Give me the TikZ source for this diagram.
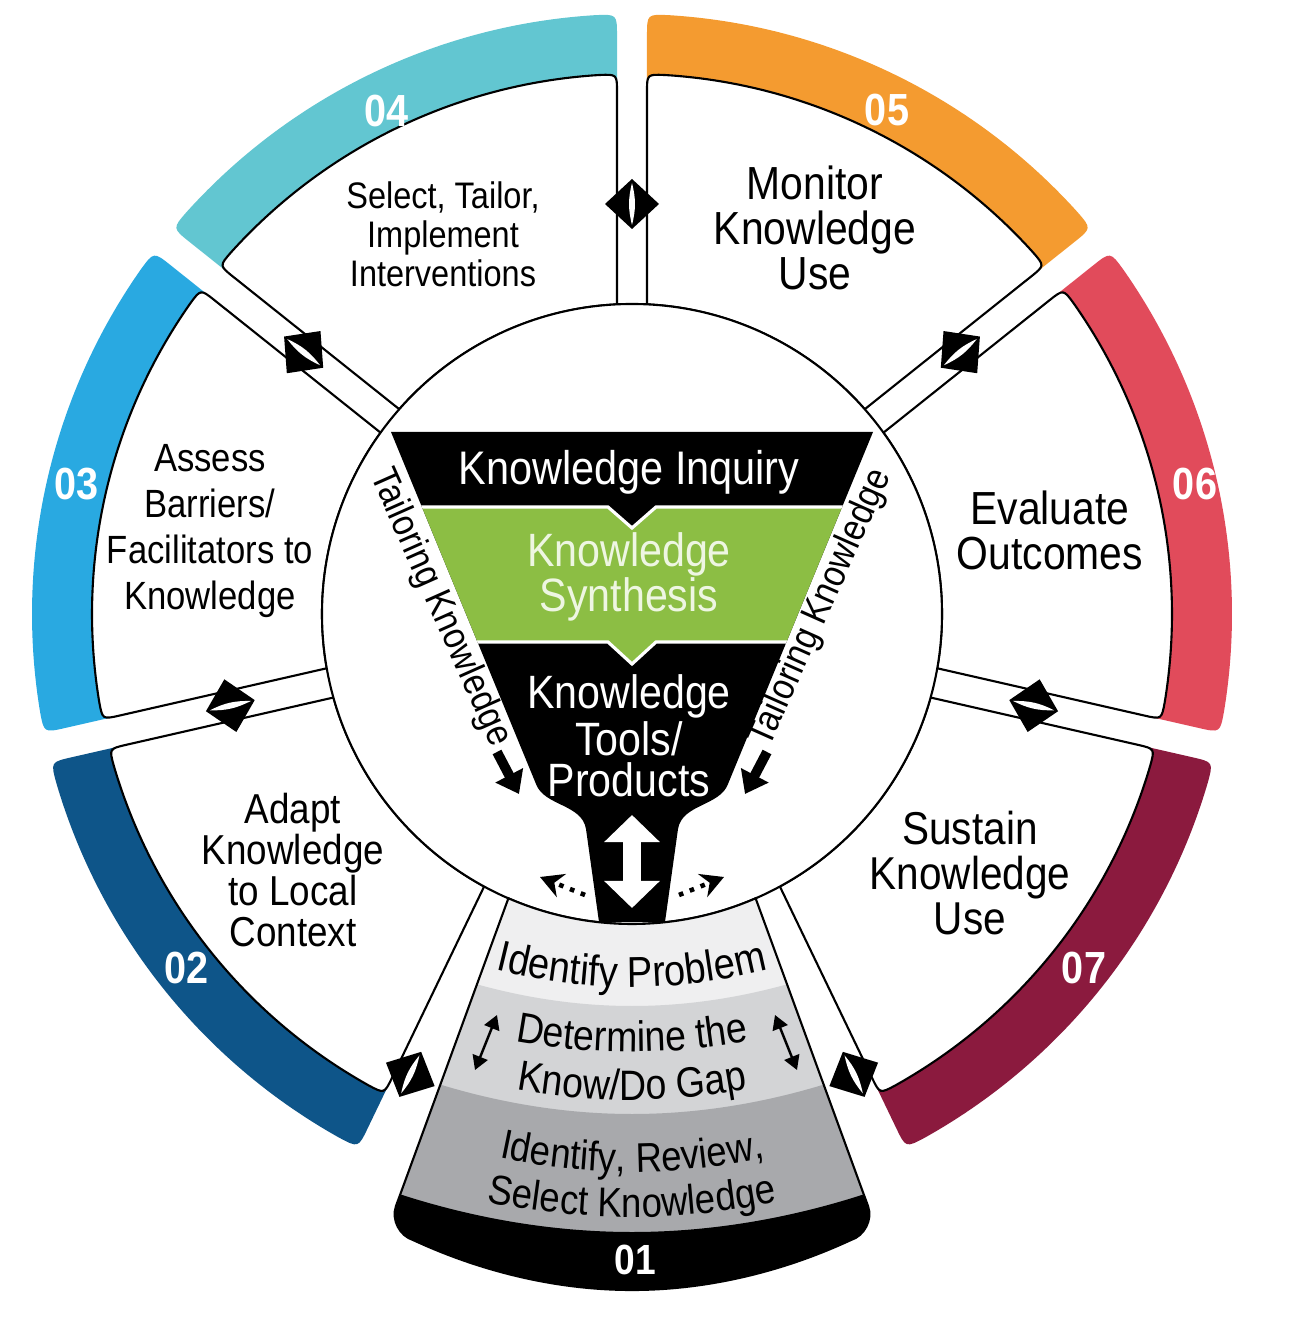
\documentclass[tikz,border=0pt]{standalone}
\usepackage{fontspec}
\setmainfont{Liberation Sans}[FakeStretch=0.88]
\usetikzlibrary{arrows.meta,decorations.text}

\definecolor{stagetwo}{HTML}{0E5589}
\definecolor{stagethree}{HTML}{29A9E1}
\definecolor{stagefour}{HTML}{62C6D1}
\definecolor{stagefive}{HTML}{F49B30}
\definecolor{stagesix}{HTML}{E14B5B}
\definecolor{stageseven}{HTML}{8B1A3E}
\definecolor{kgreen}{HTML}{8CBE44}
\definecolor{kgreentext}{HTML}{EEF6E2}
\definecolor{bandone}{HTML}{EFEFF0}
\definecolor{bandtwo}{HTML}{D3D4D6}
\definecolor{bandthree}{HTML}{A8A9AC}

\tikzset{
  stagebox/.style={fill=white, draw=black, line width=0.6pt},
  steptext/.style={align=center, text=black, inner sep=0pt},
  stepnum/.style={text=white, inner sep=0pt, font=\bfseries\fontsize{12.8}{14}\selectfont},
  funneltext/.style={align=center, text=white, inner sep=0pt},
  arctext/.style={decorate, decoration={text along path, text align=center, text={#1}}}
}

\begin{document}
\begin{tikzpicture}[x=0.01cm, y=0.01cm]
\useasboundingbox (-632,-705) rectangle (667,614);

% coloured rims and white stages
\foreach \a/\col in {90/stagefive, 38.571/stagesix, -12.857/stageseven, -115.714/stagetwo, -167.143/stagethree, 141.429/stagefour}{
  \pgfmathsetmacro\b{\a-51.429}
  \fill[\col] ({\a-1.719}:500) -- ({\a-1.487}:578) .. controls ({\a-1.432}:600) .. ({\a-3.533}:600)
    arc[start angle={\a-3.533}, end angle={\b+3.533}, radius=600]
    .. controls ({\b+1.432}:600) .. ({\b+1.487}:578) -- ({\b+1.719}:500)
    arc[start angle={\b+1.719}, end angle={\a-1.719}, radius=500] -- cycle;
  \filldraw[stagebox] ({\a-2.774}:310) -- ({\a-1.647}:522) .. controls ({\a-1.592}:540) .. ({\a-3.502}:540)
    arc[start angle={\a-3.502}, end angle={\b+3.502}, radius=540]
    .. controls ({\b+1.592}:540) .. ({\b+1.647}:522) -- ({\b+2.774}:310)
    arc[start angle={\b+2.774}, end angle={\a-2.774}, radius=310] -- cycle;
}

\filldraw[fill=white, draw=black, line width=0.6pt] (0,0) circle[radius=310];

% stage 01
\draw[line width=0.6pt, path picture={
    \fill[bandone] (-320,-250) rectangle (320,-720);
    \fill[bandtwo] (-320,-300) parabola bend (0,-392) (320,-300) -- (320,-720) -- (-320,-720) -- cycle;
    \fill[bandthree] (-320,-418) parabola bend (0,-500) (320,-418) -- (320,-720) -- (-320,-720) -- cycle;
    \fill[black] (-320,-546) parabola bend (0,-618) (320,-546) -- (320,-720) -- (-320,-720) -- cycle;
  }] (-113.5:310) -- (-236,-592) .. controls (-241,-606) and (-232,-622) .. (-219,-626)
  parabola bend (0,-676) (219,-626) .. controls (232,-622) and (241,-606) .. (236,-592)
  -- (-66.5:310) arc[start angle=-66.5, end angle=-113.5, radius=310] -- cycle;

\path[arctext={|\fontsize{12.3}{14}\selectfont|Identify Problem}] (-250,-315) parabola bend (0,-373) (250,-315);
\path[arctext={|\fontsize{12.1}{14}\selectfont|Determine the}] (-250,-388) parabola bend (0,-438) (250,-388);
\path[arctext={|\fontsize{12.1}{14}\selectfont|Know/Do Gap}] (-250,-436) parabola bend (0,-486) (250,-436);
\path[arctext={|\fontsize{11.8}{14}\selectfont|Identify, Review,}] (-250,-508) parabola bend (0,-558) (250,-508);
\path[arctext={|\fontsize{11.8}{14}\selectfont|Select Knowledge}] (-250,-559) parabola bend (0,-603) (250,-559);

\coordinate (gapla) at (-135,-401);
\coordinate (gaplb) at (-157,-456);
\coordinate (gapra) at (143,-401);
\coordinate (gaprb) at (165,-456);
\draw[line width=0.7pt, {Triangle[width=4.5pt,length=4pt]}-{Triangle[width=4.5pt,length=4pt]}] (gapla) -- (gaplb);
\draw[line width=0.7pt, {Triangle[width=4.5pt,length=4pt]}-{Triangle[width=4.5pt,length=4pt]}] (gapra) -- (gaprb);

\node[stepnum, font=\bfseries\fontsize{12}{14}\selectfont] (n01) at (3,-646) {01};

% funnel
\fill[black, path picture={
    \filldraw[fill=kgreen, draw=white, line width=0.9pt] (-300,107) -- (-24,107) -- (0,86) -- (24,107) -- (300,107)
      -- (300,-28) -- (24,-28) -- (0,-50) -- (-24,-28) -- (-300,-28) -- cycle;
  }] (-241,182) -- (241,182) -- (96,-170) .. controls (88,-192) and (50,-190) .. (46,-215) -- (33,-308)
  -- (-33,-308) -- (-46,-215) .. controls (-50,-190) and (-88,-192) .. (-96,-170) -- cycle;

\node[funneltext, font=\fontsize{13.4}{15}\selectfont] (inquiry) at (-3,142) {Knowledge Inquiry};
\node[funneltext, text=kgreentext, font=\fontsize{13.3}{12.8}\selectfont] (synthesis) at (-3,37) {Knowledge\\Synthesis};
\node[funneltext, font=\fontsize{13.3}{11.7}\selectfont] (tools) at (-3,-122) {Knowledge\\Tools/\\Products};

\coordinate (stemtop) at (0,-201);
\coordinate (stembot) at (0,-294);
\draw[white, line width=5.1pt, {Triangle[width=15.4pt,length=7.7pt]}-{Triangle[width=15.4pt,length=7.7pt]}] (stemtop) -- (stembot);

\coordinate (dotl) at (-47,-281);
\coordinate (dotlend) at (-92,-263);
\coordinate (dotr) at (47,-281);
\coordinate (dotrend) at (92,-263);
\draw[dotted, line width=1.3pt, -{Stealth[length=6.5pt,width=7pt]}] (dotl) -- (dotlend);
\draw[dotted, line width=1.3pt, -{Stealth[length=6.5pt,width=7pt]}] (dotr) -- (dotrend);

\node[steptext, rotate=-66, font=\fontsize{10.8}{12}\selectfont] (tailorleft) at (-192,6) {Tailoring Knowledge};
\node[steptext, rotate=66, font=\fontsize{10.8}{12}\selectfont] (tailorright) at (189,6) {Tailoring Knowledge};
\coordinate (tla) at (-135,-138);
\coordinate (tlb) at (-113,-180);
\coordinate (tra) at (135,-138);
\coordinate (trb) at (113,-180);
\draw[line width=2.8pt, -{Triangle[width=8.5pt,length=6pt]}] (tla) -- (tlb);
\draw[line width=2.8pt, -{Triangle[width=8.5pt,length=6pt]}] (tra) -- (trb);

% stage texts
\node[steptext, font=\fontsize{10.5}{11.1}\selectfont] (select) at (-189,380) {Select, Tailor,\\Implement\\Interventions};
\node[steptext, font=\fontsize{13.2}{12.7}\selectfont] (monitor) at (183,386) {Monitor\\Knowledge\\Use};
\node[steptext, font=\fontsize{13.2}{12.8}\selectfont] (evaluate) at (418,84) {Evaluate\\Outcomes};
\node[steptext, font=\fontsize{13.1}{12.8}\selectfont] (sustain) at (338,-259) {Sustain\\Knowledge\\Use};
\node[steptext, font=\fontsize{11.9}{11.7}\selectfont] (adapt) at (-339,-256) {Adapt\\Knowledge\\to Local\\Context};
\node[steptext, font=\fontsize{11.2}{13.1}\selectfont] (assess) at (-422,83) {Assess\\Barriers/\\Facilitators to\\Knowledge};

\node[stepnum] (n02) at (-445,-354) {02};
\node[stepnum] (n03) at (-555,130) {03};
\node[stepnum] (n04) at (-245,503) {04};
\node[stepnum] (n05) at (255,504) {05};
\node[stepnum] (n06) at (563,130) {06};
\node[stepnum] (n07) at (452,-354) {07};

% links between stages
\foreach \g/\r in {90/410, 38.571/420, -12.857/412, -64.286/511, -115.714/511, -167.143/412, 141.429/420}{
  \begin{scope}[shift={(\g:\r)}, rotate=\g]
    \fill[black] (25,0) -- (0,27) -- (-25,0) -- (0,-27) -- cycle;
    \fill[white] (21,0) to[bend left=14] (-21,0) to[bend left=14] (21,0);
  \end{scope}
}
\end{tikzpicture}
\end{document}
